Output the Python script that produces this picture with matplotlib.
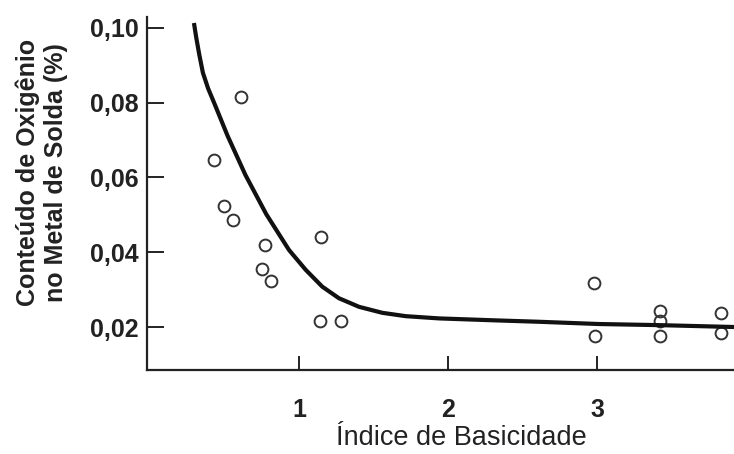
import numpy as np
import matplotlib.pyplot as plt

# pontos experimentais (índice de basicidade, oxigênio %)
pontos_x = [0.61, 0.43, 0.50, 0.56, 0.77, 0.75, 0.81, 1.15, 1.14, 1.28,
            2.98, 2.99, 3.42, 3.42, 3.42, 3.83, 3.83]
pontos_y = [0.0816, 0.0647, 0.0524, 0.0486, 0.0418, 0.0354, 0.0323, 0.0442, 0.0217, 0.0217,
            0.0317, 0.0176, 0.0244, 0.0217, 0.0176, 0.0237, 0.0185]

# curva de tendência
curva_x = [0.295, 0.310, 0.330, 0.355, 0.390, 0.430, 0.520, 0.640, 0.780, 0.933,
           1.045, 1.156, 1.268, 1.403, 1.559, 1.716, 1.940, 2.300, 2.611, 3.013,
           3.420, 3.920]
curva_y = [0.1013, 0.0975, 0.0930, 0.0880, 0.0838, 0.0800, 0.0712, 0.0607, 0.0502, 0.0406,
           0.0353, 0.0308, 0.0277, 0.0254, 0.0238, 0.0229, 0.0223, 0.0218, 0.0214, 0.0208,
           0.0205, 0.0200]

y_ticks = [0.02, 0.04, 0.06, 0.08, 0.10]
y_labels = ['0,02', '0,04', '0,06', '0,08', '0,10']
x_ticks = [1, 2, 3]

plt.rcParams['font.family'] = ['Liberation Sans', 'DejaVu Sans']

fig = plt.figure(figsize=(7.34, 4.54), dpi=100)
ax = fig.add_axes([0.2003, 0.185, 0.7997, 0.7775])

ax.plot(curva_x, curva_y, color='#111111', lw=3.0, solid_capstyle='butt',
        solid_joinstyle='round', zorder=3)
ax.plot(pontos_x, pontos_y, 'o', ms=8.5, mfc='none', mec='#333333', mew=1.4, zorder=2)

ax.set_xlim(-0.02, 3.92)
ax.set_ylim(0.0085, 0.1029)

ax.set_yticks(y_ticks)
ax.set_yticklabels(y_labels)
ax.set_xticks(x_ticks)
ax.set_xticklabels([str(t) for t in x_ticks])

for s in ['top', 'right']:
    ax.spines[s].set_visible(False)
for s in ['left', 'bottom']:
    ax.spines[s].set_linewidth(1.6)
    ax.spines[s].set_color('#222222')

ax.tick_params(axis='y', direction='in', length=12, width=1.4, pad=6,
               labelsize=18, colors='#222222')
ax.tick_params(axis='x', direction='in', length=10, width=1.4, pad=20,
               labelsize=18, colors='#222222')
for lab in ax.get_xticklabels() + ax.get_yticklabels():
    lab.set_fontweight('bold')

fig.text(0.628, 0.035, 'Índice de Basicidade', ha='center', va='center',
         fontsize=19.5, color='#222222')
fig.text(0.057, 0.621, 'Conteúdo de Oxigênio\nno Metal de Solda (%)', rotation=90,
         ha='center', va='center', fontsize=18, fontweight='bold', color='#222222',
         linespacing=1.2)

fig.savefig('out.png', dpi=100, facecolor='white')
